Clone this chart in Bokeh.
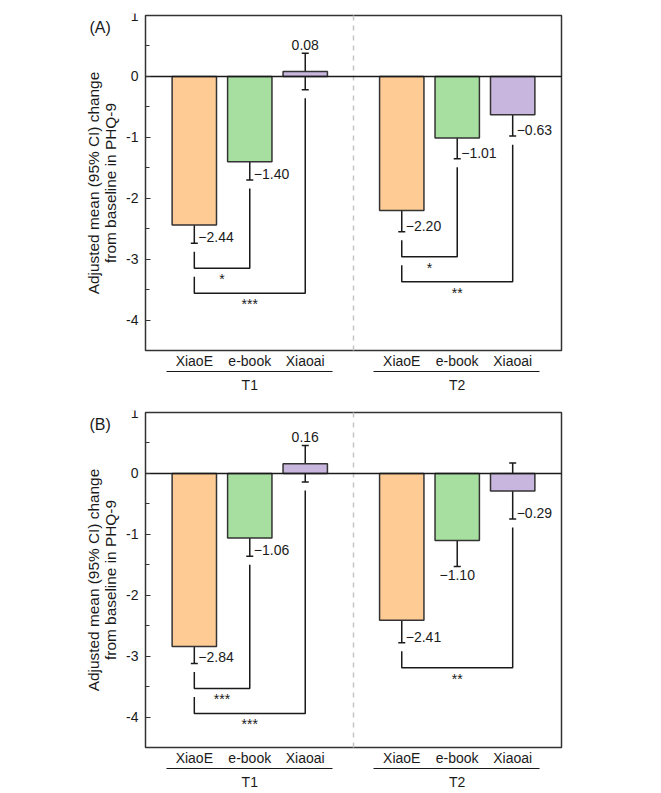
from bokeh.plotting import figure
from bokeh.layouts import column
from bokeh.models import (FixedTicker, Label, Whisker, TeeHead, ColumnDataSource,
                          Range1d, LinearAxis)
from bokeh.embed import file_html
from bokeh.resources import INLINE
from bokeh.core.properties import value

# ---------------- data ----------------
times = ["T1", "T2"]
arms = ["XiaoE", "e-book", "Xiaoai"]

# Panel (A)
a_mean = [-2.44, -1.40, 0.08, -2.20, -1.01, -0.63]
a_lo = [-2.74, -1.70, -0.22, -2.55, -1.35, -0.98]
a_hi = [-2.14, -1.10, 0.38, -1.86, -0.67, -0.30]
a_sig = [(0, 1, "*"), (0, 2, "***"), (1, 1, "*"), (1, 2, "**")]

# Panel (B)
b_mean = [-2.84, -1.06, 0.16, -2.41, -1.10, -0.29]
b_lo = [-3.12, -1.36, -0.14, -2.78, -1.53, -0.75]
b_hi = [-2.57, -0.76, 0.46, -2.04, -0.67, 0.17]
b_sig = [(0, 1, "***"), (0, 2, "***"), (1, 2, "**")]

y_ticks = [-4, -3, -2, -1, 0, 1]
Y_MIN, Y_MAX = -4.5, 1.0
X_MIN, X_MAX = 0.0, 7.5

# ---------------- style ----------------
FONT = "Liberation Sans"
COLORS = ["#FECB95", "#A6DF9F", "#C9B6DF"]
EDGE = "#333333"
INK = "#1a1a1a"
GROUP_STEP = 3.74
FIRST = 0.88
BOX_W, BOX_H = 416, 335
PXU = BOX_W / (X_MAX - X_MIN)
PXY = BOX_H / (Y_MAX - Y_MIN)
LEFT_PAD = 65       # px of frame kept left of the box (room for the panel tag)
PAD = 2             # px of frame kept around the box so its edges are not clipped


def fmt(v):
    s = f"{abs(v):.2f}"
    return ("\u2212" + s) if v < 0 else s


def panel(tag, mean, lo, hi, sig, modes, border_top, border_bottom):
    p = figure(frame_width=BOX_W + LEFT_PAD + PAD, frame_height=BOX_H + 2 * PAD,
               x_range=Range1d(X_MIN - LEFT_PAD / PXU, X_MAX + PAD / PXU),
               y_range=Range1d(Y_MIN - PAD / PXY, Y_MAX + PAD / PXY),
               output_backend="svg", toolbar_location=None,
               min_border_left=80, min_border_right=40,
               min_border_top=border_top, min_border_bottom=border_bottom,
               background_fill_color="white", border_fill_color="white")
    p.grid.visible = False
    p.outline_line_color = None

    xs = [g * GROUP_STEP + i + FIRST for g in range(len(times)) for i in range(len(arms))]

    # y axis, drawn at the left edge of the box
    ya = p.yaxis[0]
    ya.fixed_location = X_MIN
    ya.ticker = FixedTicker(ticks=y_ticks,
                            minor_ticks=[t + 0.5 for t in y_ticks[:-1]] + [Y_MIN])
    ya.major_label_overrides = {t: str(t) for t in y_ticks}
    ya.axis_line_color = None
    ya.major_tick_in = 5
    ya.major_tick_out = 0
    ya.minor_tick_in = 4
    ya.minor_tick_out = 0
    ya.major_tick_line_color = EDGE
    ya.minor_tick_line_color = EDGE
    ya.major_tick_line_width = 1.2
    ya.minor_tick_line_width = 1.2
    ya.major_label_standoff = 7
    ya.major_label_text_font = FONT
    ya.major_label_text_font_size = "14px"
    ya.major_label_text_color = INK
    ya.axis_label = "Adjusted mean (95% CI) change\nfrom baseline in PHQ-9"
    ya.axis_label_text_font = FONT
    ya.axis_label_text_font_size = "15.4px"
    ya.axis_label_text_line_height = 1.0
    ya.axis_label_text_font_style = "normal"
    ya.axis_label_text_color = INK
    ya.axis_label_standoff = 4

    # x axis: arm names
    xa = p.xaxis[0]
    xa.ticker = FixedTicker(ticks=xs, minor_ticks=[])
    xa.major_label_overrides = {x: arms[i % 3] for i, x in enumerate(xs)}
    xa.axis_line_color = None
    xa.major_tick_line_color = None
    xa.minor_tick_line_color = None
    xa.major_tick_in = 0
    xa.major_tick_out = 0
    xa.minor_tick_in = 0
    xa.minor_tick_out = 0
    xa.major_label_standoff = 0
    xa.major_label_text_font = FONT
    xa.major_label_text_font_size = "14px"
    xa.major_label_text_color = INK

    # second x axis: time points, its line split into one underline per group
    centers = [xs[g * 3 + 1] for g in range(len(times))]
    start = xs[0] - 0.5
    end = xs[-1] + 0.5
    on = int(round(3.0 * PXU))
    off = int(round((GROUP_STEP - 3.0) * PXU))
    ga = LinearAxis(ticker=FixedTicker(ticks=centers, minor_ticks=[]),
                    major_label_overrides={c: times[g] for g, c in enumerate(centers)},
                    bounds=(start, end),
                    axis_line_color=INK, axis_line_width=1.2,
                    axis_line_dash=f"{on} {off}", axis_line_cap="butt",
                    major_tick_line_color=None, minor_tick_line_color=None,
                    major_tick_in=0, major_tick_out=0,
                    minor_tick_in=0, minor_tick_out=0,
                    major_label_standoff=5,
                    major_label_text_font=FONT, major_label_text_font_size="14px",
                    major_label_text_color=INK)
    p.add_layout(ga, "below")

    # box, separator
    p.quad(left=[X_MIN], right=[X_MAX], bottom=[Y_MIN], top=[Y_MAX],
           fill_color=None, line_color=EDGE, line_width=1.5)
    mid = (X_MIN + X_MAX) / 2
    p.segment(x0=[mid], x1=[mid], y0=[Y_MIN], y1=[Y_MAX], line_color="#c4c4c4",
              line_width=1.5, line_dash="5 5")

    # bars and zero line
    p.vbar(x=xs, top=mean, bottom=0, width=0.8,
           fill_color=COLORS * 2, line_color=EDGE, line_width=1.5)
    p.segment(x0=[X_MIN], x1=[X_MAX], y0=[0], y1=[0], line_color=INK, line_width=1.5)

    src = ColumnDataSource(dict(x=xs, lo=lo, hi=hi))
    p.add_layout(Whisker(source=src, base="x", upper="hi", lower="lo",
                         line_color=INK, line_width=1.5,
                         upper_head=TeeHead(size=7, line_color=INK, line_width=1.5),
                         lower_head=TeeHead(size=7, line_color=INK, line_width=1.5)))

    # value labels
    for i, x in enumerate(xs):
        m = modes[i]
        if m == "above":
            p.text(x=[x], y=[hi[i]], text=[fmt(mean[i])], text_align="center",
                   text_baseline="bottom", y_offset=-3,
                   text_font=value(FONT), text_font_size="14px", text_color=INK)
        elif m == "below":
            p.text(x=[x], y=[lo[i]], text=[fmt(mean[i])], text_align="center",
                   text_baseline="top", y_offset=3,
                   text_font=value(FONT), text_font_size="14px", text_color=INK)
        else:
            p.text(x=[x], y=[lo[i]], text=[fmt(mean[i])], text_align="left",
                   text_baseline="middle", x_offset=4, y_offset=-6,
                   text_font=value(FONT), text_font_size="14px", text_color=INK)

    # significance brackets
    for g in range(len(times)):
        items = sorted([s for s in sig if s[0] == g], key=lambda s: s[1])
        base = lo[g * 3]
        prev_h = None
        bx, by = [], []
        for k, (_, t, stars) in enumerate(items):
            h = base - 0.41 * (k + 1)
            left_top = (base if k == 0 else prev_h) - 0.14
            right_top = lo[g * 3 + t] - 0.14
            x0, x1 = xs[g * 3], xs[g * 3 + t]
            bx.append([x0, x0, x1, x1])
            by.append([left_top, h, h, right_top])
            p.text(x=[(x0 + x1) / 2], y=[h], text=[stars], text_align="center",
                   text_baseline="top", y_offset=3,
                   text_font=value(FONT), text_font_size="14px", text_color=INK)
            prev_h = h
        if bx:
            p.multi_line(xs=bx, ys=by, line_color=INK, line_width=1.5)

    # panel tag
    p.add_layout(Label(x=X_MIN - 56 / PXU, y=0.80, text=tag, text_align="left",
                       text_baseline="middle", text_font=FONT,
                       text_font_size="16px", text_color=INK))
    return p


pa = panel("(A)", a_mean, a_lo, a_hi, a_sig,
           ["right", "right", "above", "right", "right", "right"], 13, 45)
pb = panel("(B)", b_mean, b_lo, b_hi, b_sig,
           ["right", "right", "above", "right", "below", "right"], 13, 42)

layout = column(pa, pb, spacing=0)
open("out.html", "w").write(file_html(layout, INLINE))
